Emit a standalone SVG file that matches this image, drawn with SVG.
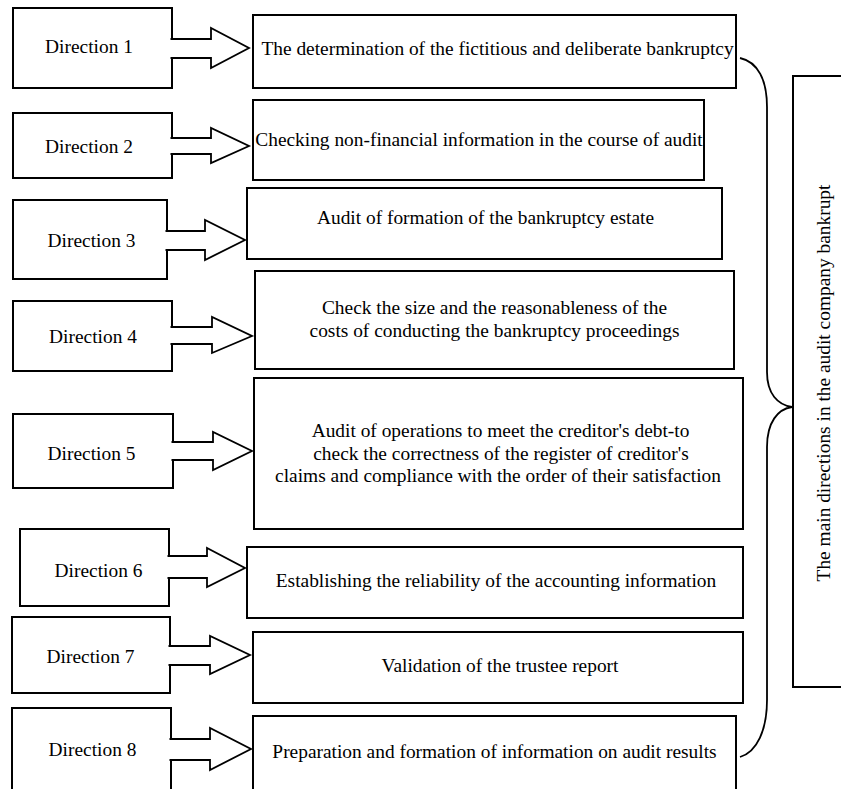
<svg xmlns="http://www.w3.org/2000/svg" width="841" height="789" viewBox="0 0 841 789">
<style>
.box{fill:#fff;stroke:#000;stroke-width:2}
.arrow{fill:#fff;stroke:#000;stroke-width:1.8;stroke-linejoin:miter}
.brace{fill:none;stroke:#000;stroke-width:1.8}
text{font-family:"Liberation Serif","Times New Roman",serif;font-size:19.4px;fill:#000;text-anchor:middle}
</style>
<rect x="0" y="0" width="841" height="789" fill="#fff"/>
<g id="dir1"><rect class="box" x="13" y="8" width="159" height="80"/><text x="89" y="53">Direction 1</text></g>
<g id="dir2"><rect class="box" x="13" y="113" width="159" height="65"/><text x="89" y="153">Direction 2</text></g>
<g id="dir3"><rect class="box" x="13" y="200" width="154" height="79"/><text x="91.5" y="247">Direction 3</text></g>
<g id="dir4"><rect class="box" x="13" y="301" width="159" height="70"/><text x="93" y="343">Direction 4</text></g>
<g id="dir5"><rect class="box" x="13" y="414" width="160" height="74"/><text x="91.5" y="460">Direction 5</text></g>
<g id="dir6"><rect class="box" x="20" y="529" width="149" height="77"/><text x="98.5" y="577">Direction 6</text></g>
<g id="dir7"><rect class="box" x="12" y="617" width="158" height="76"/><text x="90.5" y="663">Direction 7</text></g>
<g id="dir8"><rect class="box" x="12" y="708" width="159" height="100"/><text x="92.5" y="756">Direction 8</text></g>

<g id="main1"><rect class="box" x="253" y="15" width="483" height="73"/><text x="497.5" y="55">The determination of the fictitious and deliberate bankruptcy</text></g>
<g id="main2"><rect class="box" x="253" y="100" width="451" height="80"/><text x="479" y="146">Checking non-financial information in the course of audit</text></g>
<g id="main3"><rect class="box" x="247" y="188" width="475" height="71"/><text x="485.5" y="224">Audit of formation of the bankruptcy estate</text></g>
<g id="main4"><rect class="box" x="255" y="271" width="479" height="98"/><text x="494.5" y="314">Check the size and the reasonableness of the</text><text x="494.5" y="337">costs of conducting the bankruptcy proceedings</text></g>
<g id="main5"><rect class="box" x="254" y="378" width="489" height="151"/><text x="500.5" y="437">Audit of operations to meet the creditor's debt-to</text><text x="501" y="460">check the correctness of the register of creditor's</text><text x="498" y="482">claims and compliance with the order of their satisfaction</text></g>
<g id="main6"><rect class="box" x="247" y="547" width="496" height="71"/><text x="496" y="587">Establishing the reliability of the accounting information</text></g>
<g id="main7"><rect class="box" x="253" y="632" width="490" height="71"/><text x="500" y="672">Validation of the trustee report</text></g>
<g id="main8"><rect class="box" x="253" y="716" width="483" height="100"/><text x="494.5" y="758">Preparation and formation of information on audit results</text></g>

<g id="summary"><rect class="box" x="793" y="76" width="60" height="611"/><text transform="translate(830,383) rotate(-90)">The main directions in the audit company bankrupt</text></g>

<g id="connectors">
<path class="arrow" d="M170.5,39 H211 V28 L249,48 L211,68 V58 H170.5"/>
<path class="arrow" d="M170.5,138 H211 V128 L249,146 L211,163 V154 H170.5"/>
<path class="arrow" d="M165.5,231 H205 V220 L245,240 L205,260 V250 H165.5"/>
<path class="arrow" d="M170.5,327 H212 V317 L252,336 L212,353 V344 H170.5"/>
<path class="arrow" d="M171.5,442 H213 V432 L252,451 L213,470 V460 H171.5"/>
<path class="arrow" d="M167.5,556 H207 V548 L245,568 L207,587 V578 H167.5"/>
<path class="arrow" d="M168.5,646 H210 V636 L250,655 L210,674 V665 H168.5"/>
<path class="arrow" d="M169.5,739 H210 V728 L251,749 L210,770 V760 H169.5"/>
<path class="brace" d="M740,58 C758,62 767,80 767,107 L767,372 C767,394 778,405 792,407 C778,409 767,422 767,447 L767,700 C767,730 757,752 740,757"/>
</g>
</svg>
